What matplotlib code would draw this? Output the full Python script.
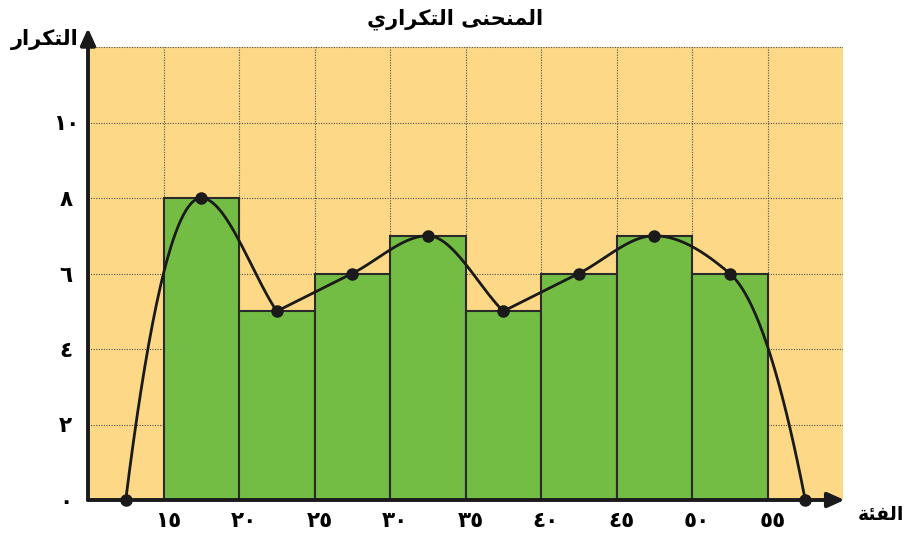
import numpy as np
import matplotlib
matplotlib.use("Agg")
import matplotlib.pyplot as plt
from matplotlib.transforms import ScaledTranslation

# ---------------- data ----------------
class_edges = [15, 20, 25, 30, 35, 40, 45, 50, 55]
frequencies = [8, 5, 6, 7, 5, 6, 7, 6]
polygon_x = [12.5, 17.5, 22.5, 27.5, 32.5, 37.5, 42.5, 47.5, 52.5, 57.5]
polygon_y = [0, 8, 5, 6, 7, 5, 6, 7, 6, 0]
x_ticks = [15, 20, 25, 30, 35, 40, 45, 50, 55]
x_tick_labels = ["١٥", "٢٠", "٢٥", "٣٠", "٣٥", "٤٠", "٤٥", "٥٠", "٥٥"]
y_ticks = [0, 2, 4, 6, 8, 10]
y_tick_labels = ["٠", "٢", "٤", "٦", "٨", "١٠"]
title_text = "المنحنى التكراري"
y_label_text = "التكرار"
x_label_text = "الفئة"

# ---------------- minimal Arabic shaping (visual order for LTR renderer) ----------------
FORMS = {
    'ا': (0xFE8D, 0xFE8E, None, None),
    'ل': (0xFEDD, 0xFEDE, 0xFEDF, 0xFEE0),
    'م': (0xFEE1, 0xFEE2, 0xFEE3, 0xFEE4),
    'ن': (0xFEE5, 0xFEE6, 0xFEE7, 0xFEE8),
    'ح': (0xFEA1, 0xFEA2, 0xFEA3, 0xFEA4),
    'ى': (0xFEEF, 0xFEF0, None, None),
    'ت': (0xFE95, 0xFE96, 0xFE97, 0xFE98),
    'ك': (0xFED9, 0xFEDA, 0xFEDB, 0xFEDC),
    'ر': (0xFEAD, 0xFEAE, None, None),
    'ي': (0xFEF1, 0xFEF2, 0xFEF3, 0xFEF4),
    'ف': (0xFED1, 0xFED2, 0xFED3, 0xFED4),
    'ئ': (0xFE89, 0xFE8A, 0xFE8B, 0xFE8C),
    'ة': (0xFE93, 0xFE94, None, None),
}


def shape(text):
    out = []
    for i, ch in enumerate(text):
        if ch not in FORMS:
            out.append(ch)
            continue
        iso, fin, ini, med = FORMS[ch]
        prev = text[i - 1] if i > 0 else None
        nxt = text[i + 1] if i + 1 < len(text) else None
        jp = prev in FORMS and FORMS[prev][2] is not None
        jn = nxt in FORMS and ini is not None
        if jp and jn:
            c = med
        elif jp:
            c = fin
        elif jn:
            c = ini
        else:
            c = iso
        out.append(chr(c))
    return "".join(reversed(out))


# ---------------- smooth curve through polygon points ----------------
def smooth_curve(xs, ys, n=60):
    xs = np.asarray(xs, float)
    ys = np.asarray(ys, float)
    d = np.diff(ys) / np.diff(xs)
    k = len(xs)
    mL = np.zeros(k)
    mR = np.zeros(k)
    for i in range(1, k - 1):
        a, b = d[i - 1], d[i]
        if a > 0 and b < 0:          # peak
            mL[i] = mR[i] = 0.0
        elif a < 0 and b > 0:        # trough -> corner
            mL[i], mR[i] = a, b
        else:
            m = 2.0 / (1.0 / a + 1.0 / b) if a * b > 0 else 0.0
            mL[i] = mR[i] = m
    mR[0] = 2 * d[0] - mL[1]
    mL[-1] = 2 * d[-1] - mR[-2]
    px, py = [], []
    for i in range(k - 1):
        h = xs[i + 1] - xs[i]
        t = np.linspace(0, 1, n)
        h00 = 2 * t**3 - 3 * t**2 + 1
        h10 = t**3 - 2 * t**2 + t
        h01 = -2 * t**3 + 3 * t**2
        h11 = t**3 - t**2
        px.append(xs[i] + t * h)
        py.append(h00 * ys[i] + h10 * h * mR[i] + h01 * ys[i + 1] + h11 * h * mL[i + 1])
    return np.concatenate(px), np.concatenate(py)


# ---------------- figure ----------------
plt.rcParams['font.family'] = ['DejaVu Sans']
fig = plt.figure(figsize=(9.07, 5.41), dpi=100)
ax = fig.add_axes([88 / 907, 41 / 541, 755 / 907, 453 / 541])

bg = "#FDD887"
green = "#74BD44"
ax.set_xlim(10, 60)
ax.set_ylim(0, 12)
ax.add_patch(plt.Rectangle((10, 0), 50, 12, facecolor=bg, edgecolor="none", zorder=0))
ax.set_facecolor("none")

# dotted grid
for gx in range(15, 61, 5):
    ax.plot([gx, gx], [0, 12], linestyle=(0, (1, 1.3)), color="#505050", lw=0.8, zorder=1)
for gy in range(2, 13, 2):
    ax.plot([10, 60], [gy, gy], linestyle=(0, (1, 1.3)), color="#505050", lw=0.8, zorder=1)

# histogram bars
lefts = class_edges[:-1]
widths = np.diff(class_edges)
ax.bar(lefts, frequencies, width=widths, align="edge", color=green,
       edgecolor="#2a2a2a", linewidth=1.5, zorder=2)

# frequency curve
cx, cy = smooth_curve(polygon_x, polygon_y)
ax.plot(cx, cy, color="#1a1a1a", lw=2, zorder=4, clip_on=False)
ax.plot(polygon_x, polygon_y, "o", color="#1a1a1a", ms=8, zorder=5, clip_on=False)

# axes with arrows
for s in ax.spines.values():
    s.set_visible(False)
ax.annotate("", xy=(60.1, 0), xytext=(10, 0),
            arrowprops=dict(arrowstyle="-|>,head_length=1.0,head_width=0.45",
                            color="#1a1a1a", lw=2.8, shrinkA=0, shrinkB=0),
            annotation_clip=False, zorder=6)
ax.annotate("", xy=(10, 12.5), xytext=(10, 0),
            arrowprops=dict(arrowstyle="-|>,head_length=1.0,head_width=0.45",
                            color="#1a1a1a", lw=2.8, shrinkA=0, shrinkB=0),
            annotation_clip=False, zorder=6)

# ticks
ax.set_xticks(x_ticks, x_tick_labels, fontsize=15.5, fontweight="bold")
ax.set_yticks(y_ticks, y_tick_labels, fontsize=15.5, fontweight="bold")
ax.tick_params(axis="both", length=0)
ax.tick_params(axis="x", pad=8)
ax.tick_params(axis="y", pad=16)
for lab in ax.get_yticklabels():
    lab.set_horizontalalignment("center")
off = ScaledTranslation(5 / 100, 0, fig.dpi_scale_trans)
for lab in ax.get_xticklabels():
    lab.set_transform(lab.get_transform() + off)

# titles and axis labels
fig.text(455 / 907, 1 - 19 / 541, shape(title_text), ha="center", va="center",
         fontsize=15, fontweight="bold")
fig.text(45 / 907, 1 - 40 / 541, shape(y_label_text), ha="center", va="center",
         fontsize=15, fontweight="bold")
fig.text(881 / 907, 1 - 515 / 541, shape(x_label_text), ha="center", va="center",
         fontsize=13.5, fontweight="bold")

fig.savefig("out.png", dpi=100)
